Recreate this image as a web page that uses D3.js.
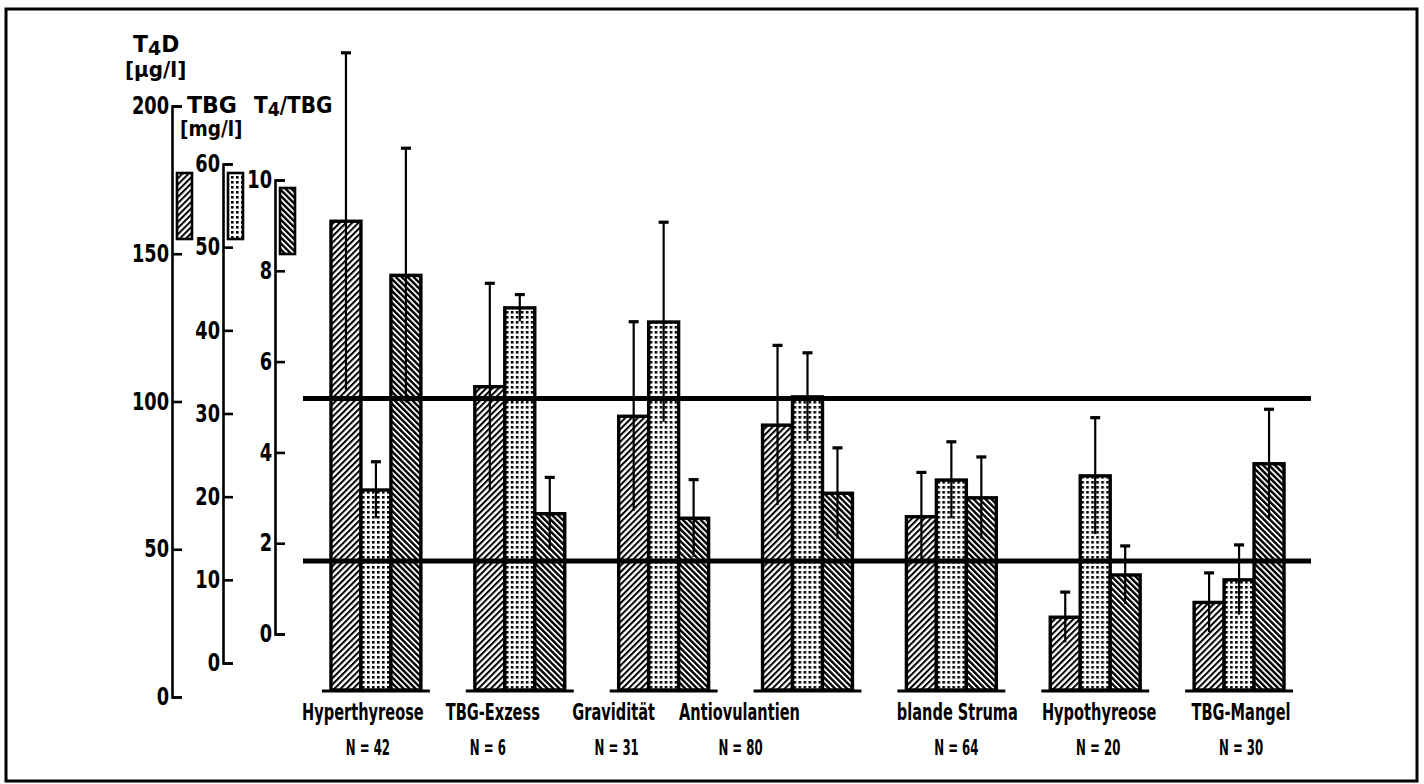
<!DOCTYPE html>
<html>
<head>
<meta charset="utf-8">
<script src="https://cdn.jsdelivr.net/npm/d3@7"></script>
<style>
  html, body { margin: 0; padding: 0; background: #fff; }
  svg { display: block; }
  .lbl { font-family: "DejaVu Sans", sans-serif; font-weight: bold; fill: #000; }
</style>
</head>
<body>
<svg id="chart" width="1424" height="784"></svg>
<script>
// ---------------- data ----------------
const categories = ["Hyperthyreose", "TBG-Exzess", "Gravidität", "Antiovulantien", "blande Struma", "Hypothyreose", "TBG-Mangel"];
const groupN = [42, 6, 31, 80, 64, 20, 30];
const seriesKeys = ["T4D", "TBG", "T4/TBG"];
const t4dMean = [161, 105, 95, 92, 61, 27, 32];
const t4dSd = [57, 35, 32, 27, 15, 8.5, 10];
const tbgMean = [20.8, 42.7, 41, 32, 22, 22.5, 10];
const tbgSd = [3.4, 1.6, 12, 5.3, 4.6, 7, 4.2];
const ratioMean = [7.9, 2.65, 2.55, 3.1, 3.0, 1.3, 3.75];
const ratioSd = [2.8, 0.8, 0.85, 1.0, 0.9, 0.64, 1.2];
const t4dTicks = [0, 50, 100, 150, 200];
const tbgTicks = [0, 10, 20, 30, 40, 50, 60];
const ratioTicks = [0, 2, 4, 6, 8, 10];
const normalRangeT4D = [46, 101];

// ---------------- scales ----------------
const yT4 = d3.scaleLinear().domain([0, 200]).range([697, 106]);
const yTBG = d3.scaleLinear().domain([0, 60]).range([663, 164]);
const yRatio = d3.scaleLinear().domain([0, 10]).range([634, 180]);
const yScales = [yT4, yTBG, yRatio];
const means = [t4dMean, tbgMean, ratioMean];
const sds = [t4dSd, tbgSd, ratioSd];

const x0 = d3.scaleBand().domain(categories).range([304, 1311]).paddingInner(0.375).paddingOuter(0.1875);
const x1 = d3.scaleBand().domain(seriesKeys).range([0, x0.bandwidth()]).padding(0);
const baseY = 690;

const svg = d3.select("#chart");
const FONT = '"DejaVu Sans", sans-serif';

// horizontally condense text with a transform (the original uses a narrow typeface)
function condense(sel, f) {
  sel.each(function () {
    const el = d3.select(this);
    const x = +el.attr("x") || 0, y = +el.attr("y") || 0;
    el.attr("x", 0).attr("y", 0).attr("transform", `translate(${x},${y}) scale(${f},1)`);
  });
}

// ---------------- patterns ----------------
const defs = svg.append("defs");
function hatch(id, angle, size, lw) {
  const p = defs.append("pattern").attr("id", id).attr("patternUnits", "userSpaceOnUse")
    .attr("width", size).attr("height", size).attr("patternTransform", `rotate(${angle})`);
  p.append("rect").attr("width", size).attr("height", size).attr("fill", "#fff");
  p.append("rect").attr("x", 0).attr("y", 0).attr("width", lw).attr("height", size).attr("fill", "#000");
}
hatch("patT4", 45, 4.4, 2.0);
hatch("patRatio", -45, 4.2, 2.4);
{
  const p = defs.append("pattern").attr("id", "patTBG").attr("patternUnits", "userSpaceOnUse")
    .attr("width", 5).attr("height", 5);
  p.append("rect").attr("width", 5).attr("height", 5).attr("fill", "#fff");
  p.append("rect").attr("x", 1).attr("y", 1).attr("width", 2.6).attr("height", 2.6).attr("fill", "#000");
}
const fills = ["url(#patT4)", "url(#patTBG)", "url(#patRatio)"];

// ---------------- frame ----------------
svg.append("rect").attr("x", 6).attr("y", 9).attr("width", 1411).attr("height", 772)
  .attr("fill", "none").attr("stroke", "#000").attr("stroke-width", 3);

// ---------------- axes ----------------
function drawAxis(scale, ticks, x) {
  const g = svg.append("g").attr("transform", `translate(${x},0)`)
    .call(d3.axisRight(scale).tickValues(ticks).tickSizeInner(10).tickSizeOuter(10).tickFormat(d3.format("d")));
  g.select(".domain").attr("stroke", "#000").attr("stroke-width", 2.6);
  g.selectAll(".tick line").attr("stroke", "#000").attr("stroke-width", 2.6);
  const t = g.selectAll(".tick text").attr("x", -3).attr("text-anchor", "end")
    .attr("font-family", FONT).attr("font-weight", "bold").attr("font-size", 24).attr("fill", "#000");
  condense(t, 0.74);
  return g;
}
const axisX = [172, 223, 275];
drawAxis(yT4, t4dTicks, axisX[0]);
drawAxis(yTBG, tbgTicks, axisX[1]);
drawAxis(yRatio, ratioTicks, axisX[2]);

// axis titles
const t1 = svg.append("text").attr("class", "lbl").attr("x", 133).attr("y", 52).attr("font-size", 23);
t1.append("tspan").text("T");
t1.append("tspan").attr("dy", 3).attr("font-size", 20).text("4");
t1.append("tspan").attr("dy", -3).text("D");
condense(t1, 0.95);
condense(svg.append("text").attr("class", "lbl").attr("x", 125).attr("y", 77).attr("font-size", 21).text("[µg/l]"), 0.95);
condense(svg.append("text").attr("class", "lbl").attr("x", 187).attr("y", 113).attr("font-size", 23).text("TBG"), 0.96);
condense(svg.append("text").attr("class", "lbl").attr("x", 180).attr("y", 136).attr("font-size", 21).text("[mg/l]"), 0.88);
const t3 = svg.append("text").attr("class", "lbl").attr("x", 254).attr("y", 113).attr("font-size", 23);
t3.append("tspan").text("T");
t3.append("tspan").attr("dy", 3).attr("font-size", 20).text("4");
t3.append("tspan").attr("dy", -3).text("/TBG");
condense(t3, 0.87);

// legend swatches next to each axis
const legendTop = [173, 173, 188];
seriesKeys.forEach((k, i) => {
  svg.append("rect").attr("x", axisX[i] + 5).attr("y", legendTop[i]).attr("width", 15).attr("height", 66)
    .attr("fill", fills[i]).attr("stroke", "#000").attr("stroke-width", 2.6);
});

// ---------------- bars ----------------
const groups = svg.append("g").selectAll("g").data(categories).join("g")
  .attr("transform", d => `translate(${x0(d)},0)`);

groups.each(function (cat, ci) {
  const g = d3.select(this);
  g.append("line").attr("x1", -9).attr("x2", x0.bandwidth() + 9).attr("y1", baseY + 1).attr("y2", baseY + 1)
    .attr("stroke", "#000").attr("stroke-width", 3);
  seriesKeys.forEach((k, si) => {
    const v = means[si][ci], y = yScales[si];
    g.append("rect").attr("x", x1(k)).attr("y", y(v)).attr("width", x1.bandwidth())
      .attr("height", baseY - y(v)).attr("fill", fills[si]).attr("stroke", "#000").attr("stroke-width", 3.4);
  });
  seriesKeys.forEach((k, si) => {
    const v = means[si][ci], s = sds[si][ci], y = yScales[si];
    const cx = x1(k) + x1.bandwidth() / 2;
    g.append("line").attr("x1", cx).attr("x2", cx).attr("y1", y(v + s)).attr("y2", y(v - s))
      .attr("stroke", "#000").attr("stroke-width", 2.2);
    g.append("line").attr("x1", cx - 5).attr("x2", cx + 5).attr("y1", y(v + s)).attr("y2", y(v + s))
      .attr("stroke", "#000").attr("stroke-width", 3.2);
  });
});

// ---------------- normal range lines ----------------
normalRangeT4D.forEach(v => {
  svg.append("line").attr("x1", 303).attr("x2", 1311).attr("y1", yT4(v)).attr("y2", yT4(v))
    .attr("stroke", "#000").attr("stroke-width", 5);
});

// ---------------- category labels ----------------
// the typeset labels sit slightly off the group centres (layout nudges, px)
const labelNudge = [-13, -27, -50, -68, 6, 4, 2];
const nNudge = [-8, -32, -47, -67, 5, 3, 2];
const catLbl = svg.append("g").selectAll("text").data(categories).join("text").attr("class", "lbl")
  .attr("x", (d, i) => x0(d) + x0.bandwidth() / 2 + labelNudge[i]).attr("y", 720).attr("text-anchor", "middle")
  .attr("font-size", 23.5).text(d => d);
condense(catLbl, 0.62);
const nLbl = svg.append("g").selectAll("text").data(categories).join("text").attr("class", "lbl")
  .attr("x", (d, i) => x0(d) + x0.bandwidth() / 2 + nNudge[i]).attr("y", 755).attr("text-anchor", "middle")
  .attr("font-size", 21).text((d, i) => `N = ${groupN[i]}`);
condense(nLbl, 0.56);
</script>
</body>
</html>
